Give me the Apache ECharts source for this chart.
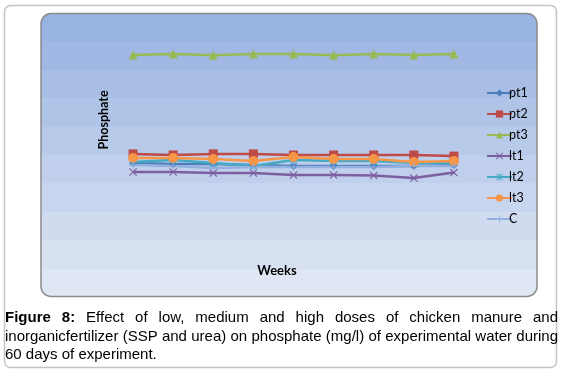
<!DOCTYPE html>
<html>
<head>
<meta charset="utf-8">
<script src="https://cdn.jsdelivr.net/npm/echarts@6/dist/echarts.min.js"></script>
<style>
  html, body { margin: 0; padding: 0; background: #fff; }
  #chart { width: 564px; height: 377px; }
</style>
</head>
<body>
<div id="chart"></div>
<script>
// weeks (no tick labels are shown on the original)
var weeks = ['1', '2', '3', '4', '5', '6', '7', '8', '9'];

// phosphate values
var pt1 = [4.14, 4.09, 4.09, 4.05, 4.00, 4.00, 4.00, 4.00, 4.05];
var pt2 = [4.55, 4.50, 4.55, 4.55, 4.50, 4.50, 4.50, 4.50, 4.45];
var pt3 = [9.05, 9.09, 9.03, 9.09, 9.09, 9.03, 9.09, 9.05, 9.09];
var lt1 = [3.73, 3.73, 3.68, 3.68, 3.59, 3.59, 3.57, 3.45, 3.70];
var lt2 = [4.18, 4.27, 4.14, 4.00, 4.27, 4.23, 4.23, 4.14, 4.14];
var lt3 = [4.36, 4.36, 4.32, 4.23, 4.41, 4.32, 4.32, 4.18, 4.23];
var C   = [4.05, 4.00, 3.91, 3.95, 3.95, 3.95, 3.95, 4.00, 4.00];

var FONT = 'Lato, "Open Sans", sans-serif';
var CAP_FONT = '"Liberation Sans", Arial, sans-serif';

// marker shapes
var xMark = 'path://M0,1L1,0L5,4L9,0L10,1L6,5L10,9L9,10L5,6L1,10L0,9L4,5Z';
var starMark = 'path://M0,1L1,0L5,4L9,0L10,1L6,5L10,9L9,10L5,6L1,10L0,9L4,5Z M4.4,0H5.6V10H4.4Z';
var plusMark = 'path://M4.4,0H5.6V4.4H10V5.6H5.6V10H4.4V5.6H0V4.4H4.4Z';

function line(name, data, color, symbol, size) {
  return {
    name: name,
    type: 'line',
    data: data,
    symbol: symbol,
    symbolSize: size,
    lineStyle: { color: color, width: 2.5 },
    itemStyle: { color: color },
    emphasis: { disabled: true },
    animation: false
  };
}

// banded background like the excel chart area
function bands() {
  var top = [152, 178, 225], bot = [224, 231, 244], n = 10, stops = [];
  for (var i = 0; i < n; i++) {
    var t = i / (n - 1);
    var c = 'rgb(' + top.map(function (v, k) { return Math.round(v + (bot[k] - v) * t); }).join(',') + ')';
    stops.push({ offset: i / n, color: c });
    stops.push({ offset: (i + 1) / n, color: c });
  }
  return new echarts.graphic.LinearGradient(0, 0, 0, 1, stops);
}

// caption, justified like the original
var capLines = [
  { words: [['Figure', 1], ['8:', 1], 'Effect', 'of', 'low,', 'medium', 'and', 'high', 'doses', 'of', 'chicken', 'manure', 'and'], justify: true, y: 318 },
  { words: ['inorganicfertilizer', '(SSP', 'and', 'urea)', 'on', 'phosphate', '(mg/l)', 'of', 'experimental', 'water', 'during'], justify: true, y: 337 },
  { words: ['60', 'days', 'of', 'experiment.'], justify: false, y: 355 }
];

function captionElements() {
  var ctx = document.createElement('canvas').getContext('2d');
  var size = 15, x0 = 5, width = 553, els = [];
  capLines.forEach(function (ln) {
    var items = ln.words.map(function (w) {
      var bold = Array.isArray(w);
      var text = bold ? w[0] : w;
      ctx.font = (bold ? 'bold ' : '') + size + 'px ' + CAP_FONT;
      return { text: text, bold: bold, w: ctx.measureText(text).width };
    });
    ctx.font = size + 'px ' + CAP_FONT;
    var space = ctx.measureText(' ').width;
    var total = items.reduce(function (s, it) { return s + it.w; }, 0);
    var gap = ln.justify ? (width - total) / (items.length - 1) : space;
    var x = x0;
    items.forEach(function (it) {
      els.push({
        type: 'text', x: x, y: ln.y, z: 100,
        style: {
          text: it.text, fill: '#000', fontSize: size, fontFamily: CAP_FONT,
          fontWeight: it.bold ? 'bold' : 'normal', verticalAlign: 'middle'
        }
      });
      x += it.w + gap;
    });
  });
  return els;
}

var chart = echarts.init(document.getElementById('chart'));

var option = {
  animation: false,
  backgroundColor: '#fff',
  graphic: [
    {
      type: 'rect', z: -20,
      shape: { x: 4.5, y: 5.5, width: 552, height: 362, r: 6 },
      style: { fill: '#fff', stroke: '#c4c4c4', lineWidth: 1.5 }
    },
    {
      type: 'rect', z: -10,
      shape: { x: 41, y: 13.5, width: 496, height: 283, r: 10 },
      style: { fill: bands(), stroke: '#8c8c8c', lineWidth: 1.5 }
    },
    {
      type: 'text', x: 104, y: 120, rotation: Math.PI / 2, z: 100,
      style: {
        text: 'Phosphate', fill: '#000', fontSize: 12.5, fontWeight: 'bold',
        fontFamily: FONT, align: 'center', verticalAlign: 'middle'
      }
    },
    {
      type: 'text', x: 277, y: 271, z: 100,
      style: {
        text: 'Weeks', fill: '#000', fontSize: 13, fontWeight: 'bold',
        fontFamily: FONT, align: 'center', verticalAlign: 'middle'
      }
    }
  ].concat(captionElements()),
  legend: {
    orient: 'vertical',
    left: 481,
    top: 81,
    itemWidth: 25,
    itemHeight: 9,
    itemGap: 7,
    textStyle: { fontFamily: FONT, fontSize: 12.5, color: '#000', lineHeight: 14, padding: [0, 0, 0, -8] },
    data: ['pt1', 'pt2', 'pt3', 'lt1', 'lt2', 'lt3', 'C']
  },
  grid: { left: 113, right: 90, top: 34, bottom: 123 },
  xAxis: {
    type: 'category',
    data: weeks,
    boundaryGap: true,
    axisLine: { show: false },
    axisTick: { show: false },
    axisLabel: { show: false }
  },
  yAxis: {
    type: 'value',
    min: 0,
    max: 10,
    axisLine: { show: false },
    axisTick: { show: false },
    axisLabel: { show: false },
    splitLine: { show: false }
  },
  series: [
    line('pt1', pt1, '#4a7ebb', 'diamond', 8),
    line('pt2', pt2, '#be4b48', 'rect', 9),
    line('pt3', pt3, '#98b954', 'triangle', 9),
    line('lt1', lt1, '#7d5fa0', xMark, 8),
    line('lt2', lt2, '#46aac5', starMark, 8),
    line('lt3', lt3, '#f79646', 'circle', 10),
    line('C', C, '#94b0de', plusMark, 8)
  ]
};

chart.setOption(option);
</script>
</body>
</html>
